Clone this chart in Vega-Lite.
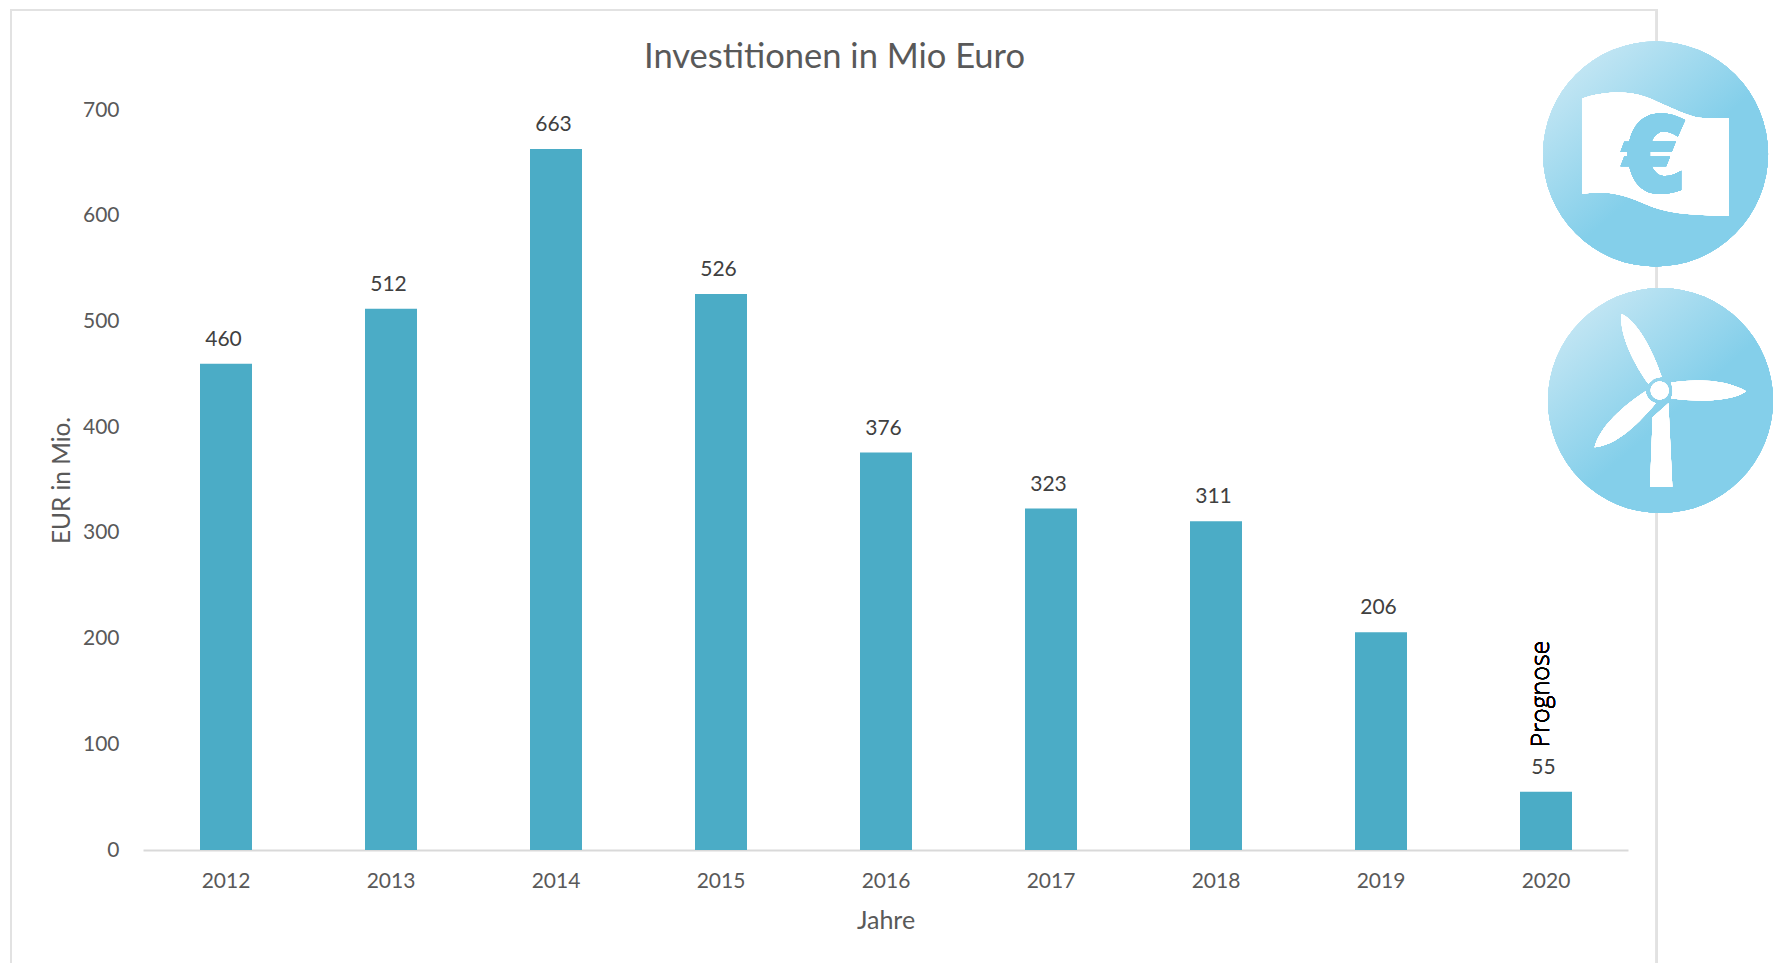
{
"$schema":"https://vega.github.io/schema/vega-lite/v6.json",
"autosize":{"type":"none"},
"padding":{"left":143,"top":110,"right":145,"bottom":113},
"width":1485,"height":740,
"background":"white",
"config":{"view":{"stroke":null},"font":"Lato",
 "axisX":{"grid":false,"ticks":false,"domain":true,"domainColor":"#d9d9d9","domainWidth":2,"labelFontSize":21,"labelColor":"#595959","labelPadding":20,"labelFont":"Lato","titleFont":"Lato","titleFontSize":25,"titleFontWeight":"normal","titleColor":"#595959","titlePadding":17},
 "axisY":{"grid":false,"ticks":false,"domain":false,"labelFontSize":21,"labelColor":"#595959","labelPadding":24,"labelFont":"Lato","titleFont":"Lato","titleFontSize":24.4,"titleFontWeight":"normal","titleColor":"#595959","titlePadding":8}},
"title":{"text":"Investitionen in Mio Euro","font":"Lato","fontSize":34.5,"fontWeight":"normal","color":"#595959","anchor":"middle","dx":-51,"offset":-67},
"data":{"values":[
{"year":2012,"eur":460},{"year":2013,"eur":512},{"year":2014,"eur":663},{"year":2015,"eur":526},{"year":2016,"eur":376},{"year":2017,"eur":323},{"year":2018,"eur":311},{"year":2019,"eur":206},{"year":2020,"eur":55}
]},
"layer":[
{"mark":{"type":"rect","fill":null,"stroke":"#e2e2e2","strokeWidth":2,"clip":false},
 "encoding":{"x":{"datum":2010.7,"type":"quantitative","title":"Jahre","scale":{"domain":[2011.5,2020.5],"nice":false,"zero":false,"padding":0},"axis":{"format":"d","values":[2012,2013,2014,2015,2016,2017,2018,2019,2020]}},"x2":{"datum":2020.674},
 "y":{"datum":-120,"type":"quantitative","title":"EUR in Mio.","scale":{"domain":[0,700],"nice":false},"axis":{"values":[0,100,200,300,400,500,600,700]}},"y2":{"datum":794.6}}},
{"mark":{"type":"bar","size":52,"color":"#4bacc6","xOffset":0.5},
 "encoding":{
  "x":{"field":"year","type":"quantitative","title":"Jahre"},
  "y":{"field":"eur","type":"quantitative","title":"EUR in Mio."}
 }},
{"mark":{"type":"text","font":"Lato","fontSize":21,"color":"#404040","baseline":"middle","dx":-2,"dy":-24},
 "encoding":{"x":{"field":"year","type":"quantitative","title":"Jahre"},"y":{"field":"eur","type":"quantitative","title":"EUR in Mio."},"text":{"field":"eur","type":"quantitative"}}},
{"mark":{"type":"text","text":"Prognose","font":"Open Sans","fontSize":25,"fontWeight":300,"color":"#000000","angle":270,"align":"left","baseline":"middle"},
 "encoding":{"x":{"datum":2019.97,"type":"quantitative","title":"Jahre"},"y":{"datum":97,"type":"quantitative","title":"EUR in Mio."}}},
{"mark":{"type":"point","shape":"circle","size":50625,"filled":true,"opacity":1,"strokeWidth":0,"clip":false,
  "fill":{"gradient":"linear","x1":0.2,"y1":0.02,"x2":0.62,"y2":0.5,"stops":[{"offset":0,"color":"#c6e7f4"},{"offset":1,"color":"#84cfea"}]}},
 "encoding":{"x":{"datum":2020.667,"type":"quantitative","title":"Jahre"},"y":{"datum":658.4,"type":"quantitative","title":"EUR in Mio."}}},
{"mark":{"type":"point","shape":"M -.65 -.494 C -.50 -.546 -.28 -.577 -.08 -.505 C .08 -.443 .28 -.33 .42 -.319 L .65 -.319 L .65 .551 C .4 .546 .15 .536 -.02 .474 C -.2 .402 -.35 .309 -.65 .355 Z","size":50625,"filled":true,"fill":"#ffffff","opacity":1,"strokeWidth":0,"clip":false},
 "encoding":{"x":{"datum":2020.667,"type":"quantitative","title":"Jahre"},"y":{"datum":658.4,"type":"quantitative","title":"EUR in Mio."}}},
{"mark":{"type":"point","shape":"M .263 -.302 L .198 -.155 C .085 -.226 .01 -.21 -.034 -.112 L .18 -.112 L .144 -.02 L -.049 -.02 L -.049 .023 L .129 .023 L .094 .109 L -.034 .109 C .025 .235 .129 .204 .228 .148 L .228 .32 C .04 .387 -.168 .387 -.234 .109 L -.311 .109 L -.278 .023 L -.248 .023 L -.248 -.02 L -.311 -.02 L -.278 -.109 L -.234 -.109 C -.168 -.393 .07 -.409 .263 -.302 Z","size":50625,"filled":true,"fill":"#84cfea","opacity":1,"strokeWidth":0,"clip":false},
 "encoding":{"x":{"datum":2020.667,"type":"quantitative","title":"Jahre"},"y":{"datum":658.4,"type":"quantitative","title":"EUR in Mio."}}},
{"mark":{"type":"point","shape":"circle","size":50625,"filled":true,"opacity":1,"strokeWidth":0,"clip":false,
  "fill":{"gradient":"linear","x1":0.2,"y1":0.02,"x2":0.62,"y2":0.5,"stops":[{"offset":0,"color":"#c6e7f4"},{"offset":1,"color":"#84cfea"}]}},
 "encoding":{"x":{"datum":2020.697,"type":"quantitative","title":"Jahre"},"y":{"datum":425.2,"type":"quantitative","title":"EUR in Mio."}}},
{"mark":{"type":"point","shape":"M -.346 -.77 C -.366 -.624 -.272 -.379 -.108 -.149 L -.058 -.196 L .01 -.211 C -.064 -.44 -.212 -.715 -.346 -.77 Z M .093 -.159 C .353 -.196 .589 -.18 .761 -.082 C .648 .003 .352 .019 .093 -.019 C .114 -.052 .114 -.103 .093 -.159 Z M -.132 -.082 C -.332 .048 -.54 .233 -.586 .416 C -.42 .401 -.242 .263 -.043 .025 C -.109 .003 -.129 -.043 -.132 -.082 Z M .07 .025 L .105 .767 L -.093 .767 L -.07 .149 Z M -.087 -.089 A .08 .08 0 1 0 .073 -.089 A .08 .08 0 1 0 -.087 -.089 Z","size":50625,"filled":true,"fill":"#ffffff","opacity":1,"strokeWidth":0,"clip":false},
 "encoding":{"x":{"datum":2020.697,"type":"quantitative","title":"Jahre"},"y":{"datum":425.2,"type":"quantitative","title":"EUR in Mio."}}}
]
}
